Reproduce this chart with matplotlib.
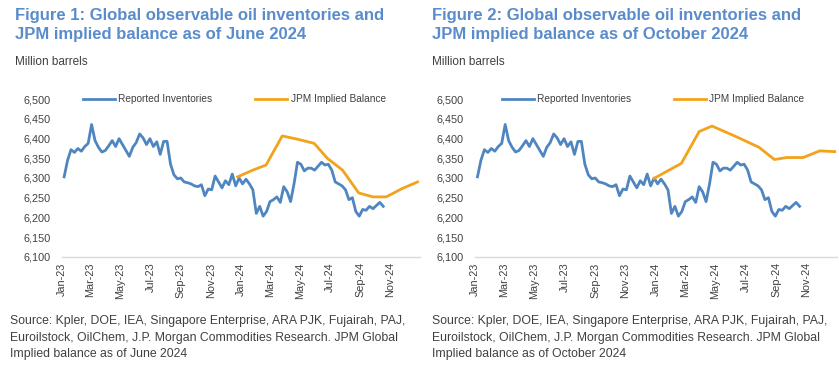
import matplotlib

matplotlib.use("Agg")
import matplotlib.dates as mdates
import matplotlib.pyplot as plt
import matplotlib.ticker as mticker
import pandas as pd

plt.rcParams["font.family"] = ["Liberation Sans", "DejaVu Sans"]

BLUE = "#4f86c0"
ORANGE = "#f2a31b"
TITLE_BLUE = "#5a8ccb"
TEXT = "#404040"

# weekly reported inventories (million barrels), first week of Jan-23 onward
inv_start = "2023-01-06"
inventories = [
    6303, 6345, 6372, 6365, 6375, 6368, 6380, 6388, 6436, 6395,
    6378, 6366, 6370, 6382, 6395, 6380, 6400, 6385, 6370, 6355,
    6378, 6390, 6412, 6402, 6385, 6400, 6380, 6392, 6360, 6393,
    6393, 6335, 6308, 6298, 6300, 6290, 6288, 6285, 6280, 6278,
    6283, 6255, 6272, 6270, 6305, 6290, 6275, 6293, 6283, 6310,
    6280, 6300, 6285, 6297, 6285, 6270, 6210, 6228, 6203, 6215,
    6240, 6245, 6252, 6238, 6278, 6265, 6240, 6285, 6340, 6335,
    6318, 6325, 6325, 6320, 6330, 6340, 6333, 6335, 6320, 6290,
    6285, 6280, 6270, 6245, 6250, 6215, 6203, 6220, 6218, 6228,
    6222, 6230, 6238, 6228,
]

# JPM implied balance, June 2024 vintage
june_dates = ["2023-12-26", "2024-01-26", "2024-02-22", "2024-03-26",
              "2024-04-28", "2024-05-30", "2024-06-26", "2024-07-27",
              "2024-08-29", "2024-09-27", "2024-10-24", "2024-11-27",
              "2024-12-27"]
june_balance = [6303, 6320, 6333, 6407, 6398, 6388, 6350, 6320,
                6262, 6252, 6252, 6274, 6290]

# JPM implied balance, October 2024 vintage
oct_dates = ["2023-12-29", "2024-01-31", "2024-02-22", "2024-03-29",
             "2024-04-24", "2024-06-12", "2024-07-28", "2024-08-28",
             "2024-09-22", "2024-10-25", "2024-11-28", "2024-12-28"]
oct_balance = [6299, 6322, 6337, 6418, 6432, 6405, 6378, 6347,
               6352, 6352, 6369, 6367]

tick_dates = pd.date_range("2023-01-01", "2024-11-01", freq="2MS")
y_ticks = [6100, 6150, 6200, 6250, 6300, 6350, 6400, 6450, 6500]

titles = [
    "Figure 1: Global observable oil inventories and\nJPM implied balance as of June 2024",
    "Figure 2: Global observable oil inventories and\nJPM implied balance as of October 2024",
]
sources = [
    "Source: Kpler, DOE, IEA, Singapore Enterprise, ARA PJK, Fujairah, PAJ,\n"
    "Euroilstock, OilChem, J.P. Morgan Commodities Research. JPM Global\n"
    "Implied balance as of June 2024",
    "Source: Kpler, DOE, IEA, Singapore Enterprise, ARA PJK, Fujairah, PAJ,\n"
    "Euroilstock, OilChem, J.P. Morgan Commodities Research. JPM Global\n"
    "Implied balance as of October 2024",
]

W, H = 839, 375


def draw_panel(fig, rect, title_x, source_x, title, source, bal_dates, bal_vals, leg_x):
    ax = fig.add_axes(rect)
    inv_dates = pd.date_range(inv_start, periods=len(inventories), freq="7D")
    ax.plot(inv_dates, inventories, color=BLUE, lw=2.0,
            label="Reported Inventories", solid_joinstyle="round")
    ax.plot(pd.to_datetime(bal_dates), bal_vals, color=ORANGE, lw=2.0,
            label="JPM Implied Balance", solid_joinstyle="round")
    ax.set_xlim(pd.Timestamp("2023-01-01"), pd.Timestamp("2025-01-01"))
    ax.set_ylim(6100, 6500)
    ax.set_yticks(y_ticks)
    ax.yaxis.set_major_formatter(mticker.FuncFormatter(lambda v, p: f"{v:,.0f}"))
    ax.set_xticks(tick_dates)
    ax.xaxis.set_major_formatter(mdates.DateFormatter("%b-%y"))
    ax.tick_params(axis="x", length=0, pad=4, labelsize=7.8, labelcolor=TEXT,
                   labelrotation=90)
    ax.tick_params(axis="y", length=0, pad=8, labelsize=7.8, labelcolor=TEXT)
    for s in ("top", "right", "left"):
        ax.spines[s].set_visible(False)
    ax.spines["bottom"].set_color("#d9d9d9")
    ax.spines["bottom"].set_linewidth(1.0)
    ax.legend(loc="center left", bbox_to_anchor=(leg_x, 1.0), ncol=2,
              frameon=False, fontsize=7.3, handlelength=3.2, handletextpad=0.3,
              columnspacing=4.2, labelcolor=TEXT, borderaxespad=0, borderpad=0)
    fig.text(title_x, 1 - 8 / H, title, ha="left", va="top", fontsize=12,
             fontweight="bold", color=TITLE_BLUE, linespacing=1.3)
    fig.text(title_x, 1 - 56 / H, "Million barrels", ha="left", va="top",
             fontsize=8.5, color=TEXT)
    fig.text(source_x, 1 - 315 / H, source, ha="left", va="top",
             fontsize=8.8, color=TEXT, linespacing=1.5)
    return ax


fig = plt.figure(figsize=(W / 100, H / 100), dpi=100)
bottom = (H - 256.7) / H
height = (256.7 - 99.3) / H
draw_panel(fig, [61.7 / W, bottom, 358.3 / W, height], 15 / W, 10 / W,
           titles[0], sources[0], june_dates, june_balance, 0.059)
draw_panel(fig, [475 / W, bottom, 361.7 / W, height], 432 / W, 432 / W,
           titles[1], sources[1], oct_dates, oct_balance, 0.074)

fig.savefig("out.png", dpi=100)
